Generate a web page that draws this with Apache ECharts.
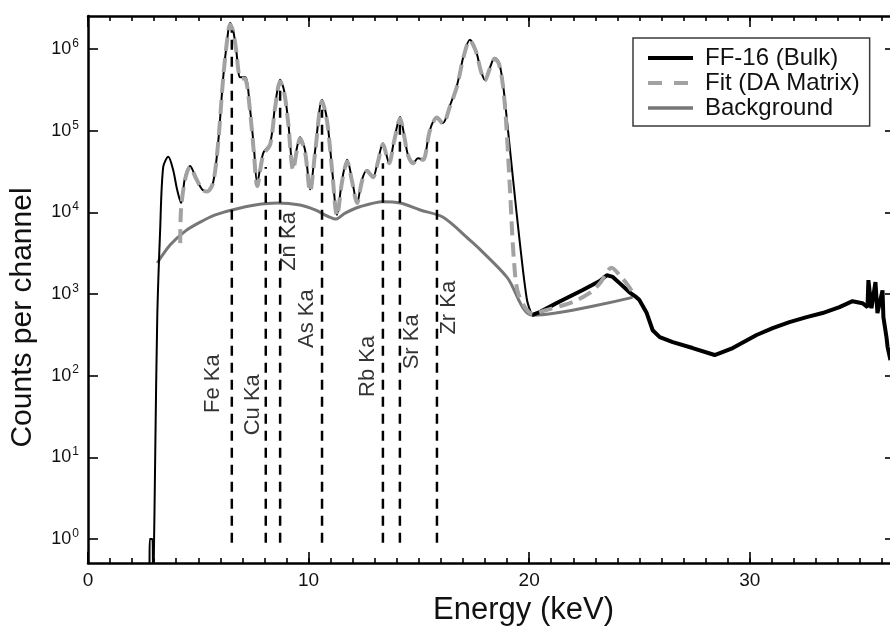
<!DOCTYPE html>
<html>
<head>
<meta charset="utf-8">
<title>FF-16 XRF spectrum</title>
<script src="https://cdn.jsdelivr.net/npm/echarts@6/dist/echarts.min.js"></script>
<style>
  html, body { margin: 0; padding: 0; background: #fff; }
  #chart { width: 890px; height: 626px; }
</style>
</head>
<body>
<div id="chart"></div>
<script>
// spectrum FF-16 (bulk): energy in keV, counts per channel
const bulkEnergy = [0, 0.12, 2.78, 2.8, 2.92, 2.95, 2.98, 3.05, 3.14, 3.27, 3.41, 3.64, 3.86, 4.04, 4.22, 4.4, 4.63, 4.9, 5.18, 5.4, 5.67, 5.9, 6.13, 6.31, 6.44, 6.58, 6.72, 6.9, 7.13, 7.35, 7.53, 7.67, 7.94, 8.26, 8.48, 8.71, 8.89, 9.07, 9.3, 9.48, 9.61, 9.84, 10.07, 10.3, 10.61, 10.84, 11.07, 11.29, 11.52, 11.75, 11.97, 12.2, 12.42, 12.65, 12.92, 13.15, 13.37, 13.65, 13.88, 14.15, 14.33, 14.51, 14.74, 14.96, 15.19, 15.5, 15.82, 16.09, 16.4, 16.73, 17.04, 17.31, 17.58, 17.81, 17.99, 18.22, 18.44, 18.63, 18.81, 19.04, 19.26, 19.58, 19.9, 20.12];
const bulkCounts = [0.7, 0.3, 0.3, 1, 1, 0.4, 0.5, 12, 520, 6000, 36000, 48000, 33000, 19000, 13000, 27000, 37000, 26000, 19000, 18000, 23000, 71000, 450000, 1300000, 2100000, 1700000, 970000, 450000, 450000, 180000, 58000, 23000, 53000, 70000, 200000, 420000, 310000, 135000, 36000, 63000, 83000, 58000, 19000, 58000, 240000, 135000, 33000, 9300, 25000, 44000, 25000, 13000, 25000, 33000, 27000, 44000, 70000, 40000, 77000, 147000, 89000, 50000, 40000, 46000, 44000, 102000, 147000, 124000, 200000, 360000, 850000, 1300000, 970000, 550000, 420000, 590000, 780000, 690000, 380000, 102000, 27000, 4200, 850, 553];
// same spectrum above 20 keV (noisy part)
const tailEnergy = [20.12, 20.48, 21.25, 22.43, 23.2, 23.52, 23.79, 24.1, 24.55, 24.86, 24.99, 25.33, 25.6, 25.92, 26.51, 27.41, 28.41, 29.23, 30.31, 31.04, 31.8, 32.58, 33.3, 34.07, 34.66, 35.11, 35.34, 35.38, 35.52, 35.7, 35.79, 36.02, 36.06, 36.2, 36.25, 36.38];
const tailCounts = [553, 600, 777, 1120, 1440, 1700, 1620, 1360, 1050, 915, 850, 585, 360, 296, 257, 218, 179, 218, 315, 382, 453, 522, 585, 692, 817, 772, 692, 1480, 671, 1400, 585, 1110, 522, 296, 224, 155];
// fit (DA matrix)
const fitEnergy = [4.18, 4.22, 4.4, 4.63, 4.9, 5.18, 5.4, 5.67, 5.9, 6.13, 6.31, 6.44, 6.58, 6.72, 6.9, 7.13, 7.35, 7.53, 7.67, 7.94, 8.26, 8.48, 8.71, 8.89, 9.07, 9.3, 9.48, 9.61, 9.84, 10.07, 10.3, 10.61, 10.84, 11.07, 11.29, 11.52, 11.75, 11.97, 12.2, 12.42, 12.65, 12.92, 13.15, 13.37, 13.65, 13.88, 14.15, 14.33, 14.51, 14.74, 14.96, 15.19, 15.5, 15.82, 16.09, 16.4, 16.73, 17.04, 17.31, 17.58, 17.81, 17.99, 18.22, 18.44, 18.63, 18.81, 18.95, 19.13, 19.31, 19.53, 20.17, 20.72, 21.98, 22.75, 23.2, 23.74, 24.1, 24.46, 24.69];
const fitCounts = [4200, 11000, 25000, 36000, 26000, 19000, 18000, 23000, 71000, 450000, 1300000, 2000000, 1650000, 950000, 440000, 430000, 170000, 50000, 21000, 50000, 68000, 190000, 400000, 300000, 130000, 33000, 60000, 80000, 55000, 18000, 55000, 230000, 130000, 32000, 9000, 24000, 42000, 24000, 13000, 24000, 32000, 27000, 42000, 68000, 40000, 75000, 140000, 87000, 50000, 40000, 46000, 44000, 100000, 145000, 122000, 195000, 350000, 830000, 1280000, 950000, 540000, 410000, 580000, 760000, 660000, 360000, 135000, 19000, 2600, 970, 570, 630, 800, 1030, 1350, 2100, 1700, 1300, 1050];
// background
const bkgEnergy = [3.14, 3.73, 4.41, 5.09, 5.77, 6.54, 7.58, 8.57, 9.61, 10.3, 10.89, 11.25, 11.66, 12.33, 13.37, 14.15, 15.06, 16.1, 17.3, 17.78, 19.0, 20.17, 24.69];
const bkgCounts = [2400, 4000, 5900, 7600, 9300, 10700, 12300, 13000, 12300, 10700, 8900, 8300, 9800, 11700, 13500, 13000, 10700, 8700, 4600, 3500, 1600, 550, 910];
// element lines
const elementNames = ['Fe Ka', 'Cu Ka', 'Zn Ka', 'As Ka', 'Rb Ka', 'Sr Ka', 'Zr Ka'];
const elementEnergy = [6.52, 8.06, 8.71, 10.61, 13.37, 14.14, 15.82];
const elementTop = [1700000, 36000, 310000, 180000, 40000, 135000, 76000];
const elementBottom = 0.9;
const elementLabelCounts = [80, 44, 4400, 500, 130, 260, 680];

const xTickValues = [0, 10, 20, 30];
const yTickValues = [1, 10, 100, 1000, 10000, 100000, 1000000];

// layout / style
const labelDx = [-19, -13, 9, -15, -15, 12, 12];
const X_MIN = 0, X_MAX = 36.45;
const Y_MIN = 0.508, Y_MAX = 2.54e6;
const FONT = '"Liberation Sans", Arial, sans-serif';
const INK = '#111';

const zip = (xs, ys) => xs.map((x, i) => [x, ys[i]]);
const spine = { color: '#000', width: 2.5 };
const tickStyle = { color: '#000', width: 1.6 };

function xAxisPart(position, major, withLabels) {
  return {
    type: 'value', position, min: X_MIN, max: X_MAX,
    interval: major ? undefined : 1,
    axisLine: { show: !major, onZero: false, lineStyle: spine },
    axisTick: major
      ? { show: true, inside: true, length: 11, customValues: xTickValues, lineStyle: tickStyle }
      : { show: true, inside: true, length: 5, lineStyle: tickStyle },
    axisLabel: withLabels
      ? { show: true, customValues: xTickValues, fontSize: 19, color: INK, margin: 8, fontFamily: FONT }
      : { show: false },
    splitLine: { show: false },
  };
}

const bottomMajor = xAxisPart('bottom', true, true);
Object.assign(bottomMajor, {
  name: 'Energy (keV)', nameLocation: 'middle', nameGap: 29,
  nameTextStyle: { fontSize: 31, color: INK, fontFamily: FONT, padding: [0, 0, 0, 67] },
});

const chart = echarts.init(document.getElementById('chart'));

const series = [
  {
    name: 'Background', type: 'line', data: zip(bkgEnergy, bkgCounts),
    smooth: 0.3, symbol: 'none', showSymbol: false, z: 2,
    itemStyle: { color: '#777' },
    lineStyle: { color: '#777', width: 3 },
  },
  {
    name: 'FF-16 (Bulk)', type: 'line', data: zip(bulkEnergy, bulkCounts),
    smooth: 0.3, symbol: 'none', showSymbol: false, z: 3,
    itemStyle: { color: '#000' },
    lineStyle: { color: '#000', width: 2 },
  },
  {
    name: 'FF-16 (Bulk)', type: 'line', data: zip(tailEnergy, tailCounts),
    symbol: 'none', showSymbol: false, z: 3,
    itemStyle: { color: '#000' },
    lineStyle: { color: '#000', width: 4 },
  },
  {
    name: 'Fit (DA Matrix)', type: 'line', data: zip(fitEnergy, fitCounts),
    smooth: 0.3, symbol: 'none', showSymbol: false, z: 4,
    itemStyle: { color: '#a2a2a2' },
    lineStyle: { color: '#a2a2a2', width: 4, type: [14, 7] },
  },
];

elementNames.forEach((name, i) => {
  series.push({
    type: 'line', symbol: 'none', z: 5, silent: true,
    data: [[elementEnergy[i], elementBottom], [elementEnergy[i], elementTop[i]]],
    lineStyle: { color: '#000', width: 2.5, type: [10, 7] },
  });
});

// labels are rotated 90deg, so the horizontal nudge is the label's local y offset
series.push({
  type: 'scatter', z: 6, silent: true, symbolSize: 1,
  itemStyle: { color: 'rgba(0,0,0,0)' },
  data: elementNames.map((name, i) => ({
    name, value: [elementEnergy[i], elementLabelCounts[i]],
    label: { offset: [0, labelDx[i]] },
  })),
  label: {
    show: true, position: 'inside', rotate: 90, formatter: '{b}',
    fontSize: 22, color: '#000', fontFamily: FONT,
  },
});

const legendMark = { opacity: 0 };

const option = {
  animation: false,
  backgroundColor: '#fff',
  textStyle: { fontFamily: FONT },
  grid: { left: 88, right: -2, top: 16, bottom: 63, containLabel: false, outerBoundsMode: 'none' },
  legend: {
    data: [
      { name: 'FF-16 (Bulk)', itemStyle: legendMark, lineStyle: { width: 4, color: '#000' } },
      { name: 'Fit (DA Matrix)', itemStyle: legendMark, lineStyle: { width: 4, type: [14, 12], color: '#a2a2a2' } },
      { name: 'Background', itemStyle: legendMark, lineStyle: { width: 3.5, color: '#777' } },
    ],
    orient: 'vertical', left: 633, top: 38,
    padding: [8, 10, 6, 13],
    itemWidth: 45, itemHeight: 14, itemGap: 1,
    borderColor: '#3a3a3a', borderWidth: 1.5,
    selectedMode: false,
    textStyle: { fontSize: 24, color: INK, fontFamily: FONT, padding: [0, 0, 0, 7] },
  },
  xAxis: [
    xAxisPart('bottom', false, false),
    bottomMajor,
    xAxisPart('top', false, false),
    xAxisPart('top', true, false),
  ],
  yAxis: [
    {
      type: 'log', logBase: 10, position: 'left', min: Y_MIN, max: Y_MAX,
      axisLine: { show: true, onZero: false, lineStyle: spine },
      axisTick: { show: true, inside: true, length: 10, customValues: yTickValues, lineStyle: tickStyle },
      axisLabel: {
        show: true, customValues: yTickValues, margin: 9,
        formatter: (v) => '{b|10}{e|' + Math.round(Math.log10(v)) + '}',
        rich: {
          b: { fontSize: 18, color: INK, fontFamily: FONT },
          e: { fontSize: 12, color: INK, fontFamily: FONT, verticalAlign: 'top', padding: [0, 0, 11, 1] },
        },
      },
      splitLine: { show: false },
      name: 'Counts per channel', nameLocation: 'middle', nameGap: 50,
      nameTextStyle: { fontSize: 30, color: INK, fontFamily: FONT, padding: [0, 56, 0, 0] },
    },
    {
      type: 'log', logBase: 10, position: 'right', min: Y_MIN, max: Y_MAX,
      axisLine: { show: true, onZero: false, lineStyle: spine },
      axisTick: { show: true, inside: true, length: 7, customValues: yTickValues, lineStyle: tickStyle },
      axisLabel: { show: false },
      splitLine: { show: false },
    },
  ],
  series,
};

chart.setOption(option);
window.addEventListener('resize', () => chart.resize());
</script>
</body>
</html>
